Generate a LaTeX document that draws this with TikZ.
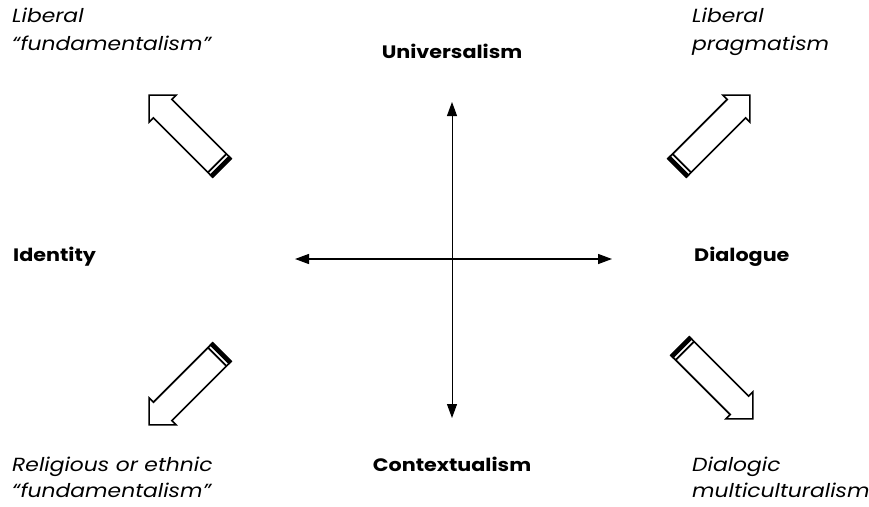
\documentclass[tikz,border=0pt]{standalone}
\usepackage{fontspec}
\setmainfont{Poppins}[FakeStretch=1.15]
\usetikzlibrary{arrows.meta}
\newcommand\blockarrow[2]{%
\begin{scope}[shift={#1},rotate=#2]
\draw[line width=1.6pt,fill=white,line join=miter] (0,-13) -- (84,-13) -- (84,-19) -- (103,0) -- (84,19) -- (84,13) -- (0,13) -- cycle;
\fill (0,-13.8) rectangle (4,13.8);
\draw[line width=1.8pt] (6.8,-13) -- (6.8,13);
\end{scope}}
\begin{document}
\begin{tikzpicture}[x=1pt,y=-1pt,
  lab/.style={inner sep=0pt,font=\fontsize{19}{22}\selectfont\itshape},
  axlab/.style={inner sep=0pt,font=\fontsize{18}{21}\selectfont\bfseries},
  axis/.style={line width=1.3pt,{Triangle[length=14pt,width=10pt]}-{Triangle[length=14pt,width=10pt]}}]
\useasboundingbox[fill=white] (0,0) rectangle (869,506);
% axes
\coordinate (W) at (295,259);
\coordinate (E) at (612,259);
\coordinate (N) at (452,102);
\coordinate (S) at (452,418);
\draw[axis] (W) -- (E);
\draw[axis,line width=1pt] (N) -- (S);
% axis labels
\node[axlab] (univ) at (452,51) {Universalism};
\node[axlab] (cont) at (452,464) {Contextualism};
\node[axlab,anchor=west] (ident) at (13,257) {Identity};
\node[axlab,anchor=west] (dial) at (694,257) {Dialogue};
% corner labels
\node[lab,anchor=base west] (tl1) at (12,22) {Liberal};
\node[lab,anchor=base west] (tl2) at (12,50) {“fundamentalism”};
\node[lab,anchor=base west] (tr1) at (692,22) {Liberal};
\node[lab,anchor=base west] (tr2) at (692,50) {pragmatism};
\node[lab,anchor=base west] (bl1) at (12,471) {Religious or ethnic};
\node[lab,anchor=base west] (bl2) at (12,497) {“fundamentalism”};
\node[lab,anchor=base west] (br1) at (692,471) {Dialogic};
\node[lab,anchor=base west] (br2) at (692,497) {multiculturalism};
% block arrows
\blockarrow{(222,168)}{135}
\blockarrow{(677,168)}{45}
\blockarrow{(222,352)}{225}
\blockarrow{(680,346)}{-45}
\end{tikzpicture}
\end{document}
